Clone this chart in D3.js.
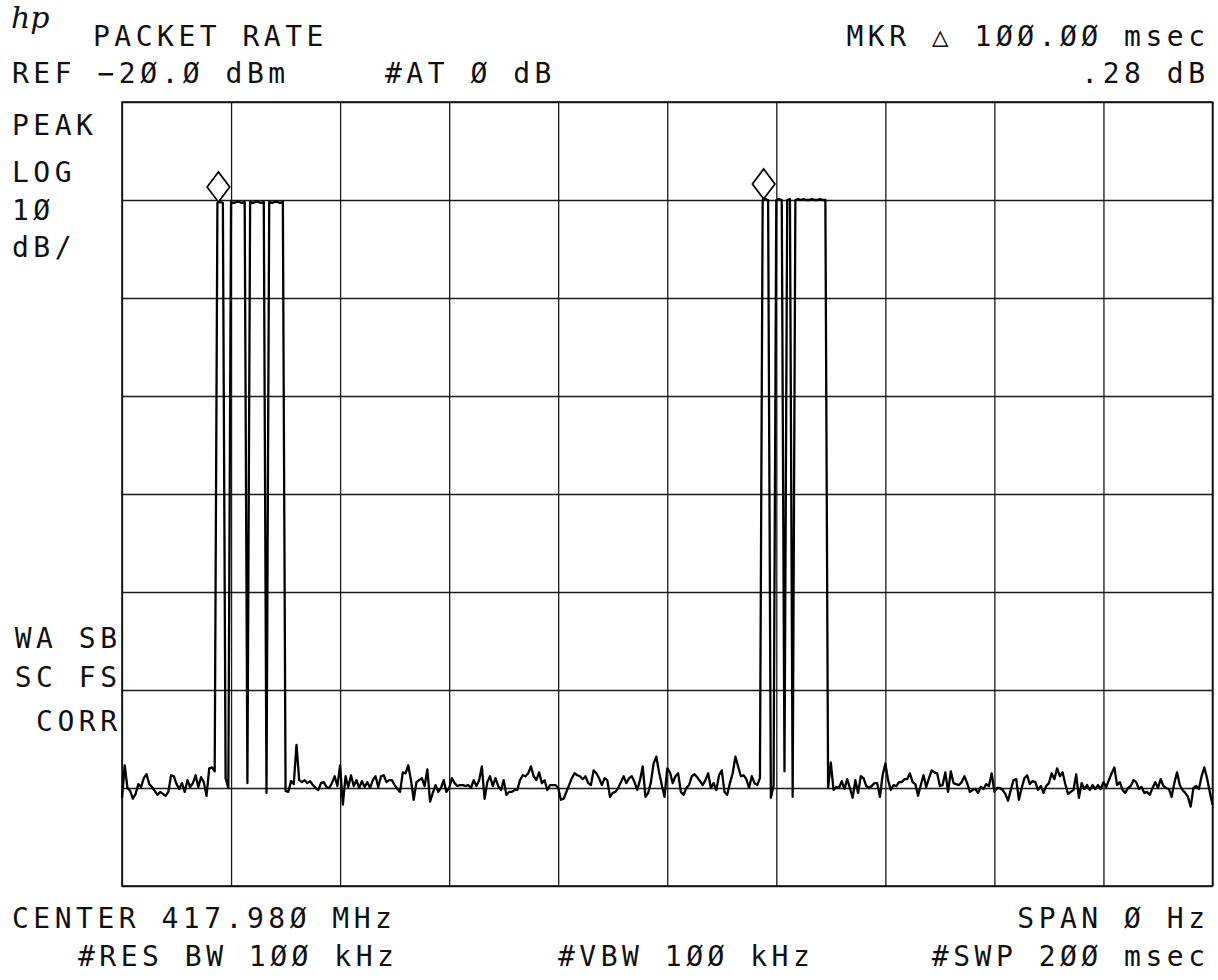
<!DOCTYPE html>
<html>
<head>
<meta charset="utf-8">
<script src="https://cdn.jsdelivr.net/npm/d3@7"></script>
<style>
  html, body { margin: 0; padding: 0; background: #fff; }
  svg { display: block; }
  .lbl { font-family: "DejaVu Sans Mono", monospace; font-size: 28px; fill: #111; letter-spacing: 4.5px; }
  .grid line { stroke: #1a1a1a; stroke-width: 1.3; }
  .grid path { display: none; }
</style>
</head>
<body>
<svg width="1218" height="980"></svg>
<script>
// sweep: 401 points over 200 msec, zero span, values in dBm
var sweepMs = 200;
var refLevel = -20;
var dbPerDiv = 10;
var xDivs = 10;
var yDivs = 8;

var trace = [
  -91.0, -87.7, -90.0, -90.3, -91.1, -90.6, -89.6, -89.9, -89.0, -88.6,
  -89.6, -89.9, -90.3, -90.7, -90.4, -90.6, -90.8, -90.4, -88.7, -88.8,
  -89.6, -90.1, -89.5, -90.4, -89.2, -89.9, -89.5, -88.7, -89.9, -88.9,
  -89.4, -90.8, -88.0, -87.9, -88.3, -30.3, -30.2, -30.3, -89.0, -90.0,
  -30.2, -30.3, -30.2, -30.2, -30.3, -30.2, -89.5, -30.2, -30.3, -30.2,
  -30.2, -30.3, -30.2, -90.5, -30.2, -30.3, -30.2, -30.2, -30.3, -30.2,
  -90.3, -90.4, -89.3, -89.6, -85.6, -89.2, -89.4, -89.2, -89.5, -89.3,
  -89.7, -90.0, -90.2, -89.5, -89.4, -89.9, -90.0, -89.5, -88.8, -89.8,
  -87.7, -91.7, -88.8, -89.9, -88.7, -89.8, -89.2, -90.0, -89.3, -89.9,
  -89.4, -90.0, -89.2, -88.8, -89.9, -88.8, -88.7, -89.4, -89.2, -89.2,
  -89.7, -90.1, -90.4, -88.4, -88.5, -87.7, -89.2, -91.2, -89.4, -89.2,
  -89.0, -89.8, -88.1, -91.4, -90.5, -89.7, -90.4, -90.0, -89.2, -90.4,
  -90.0, -89.0, -89.5, -89.8, -89.7, -89.7, -89.8, -89.7, -90.0, -89.2,
  -89.8, -89.2, -87.8, -91.1, -89.4, -88.8, -89.8, -89.0, -89.8, -90.2,
  -89.2, -90.7, -90.4, -90.4, -90.2, -90.2, -89.2, -88.7, -88.8, -88.5,
  -87.8, -88.8, -89.2, -88.4, -89.5, -89.2, -90.2, -89.7, -89.7, -89.7,
  -90.0, -91.2, -91.1, -90.4, -89.7, -89.0, -88.5, -88.7, -88.8, -89.1,
  -88.8, -89.5, -89.7, -88.2, -88.5, -89.0, -89.7, -89.0, -89.2, -90.9,
  -90.5, -90.4, -90.0, -89.4, -88.8, -89.5, -89.0, -88.8, -89.4, -90.2,
  -89.2, -87.8, -90.9, -90.5, -89.4, -87.5, -86.8, -88.4, -89.7, -90.9,
  -88.0, -88.4, -89.5, -88.8, -88.5, -90.4, -90.7, -90.0, -89.7, -88.8,
  -88.6, -88.9, -89.3, -89.7, -89.2, -88.5, -90.0, -89.5, -90.2, -88.7,
  -88.2, -90.4, -90.7, -89.5, -88.5, -86.8, -87.8, -88.8, -88.7, -89.1,
  -90.0, -88.8, -89.5, -89.7, -89.0, -30.0, -29.9, -30.0, -91.0, -89.8,
  -30.0, -29.9, -30.0, -88.3, -30.0, -29.9, -90.9, -30.0, -29.9, -30.0,
  -29.9, -30.0, -30.0, -29.9, -30.0, -30.0, -29.9, -30.0, -30.0, -90.0,
  -87.4, -90.2, -89.9, -90.0, -89.3, -90.1, -89.1, -90.0, -91.0, -89.2,
  -90.5, -88.8, -89.0, -89.8, -90.0, -89.8, -89.5, -89.5, -90.9, -88.7,
  -87.5, -89.2, -90.2, -89.7, -89.8, -89.4, -89.4, -89.1, -89.1, -88.5,
  -89.4, -89.6, -90.8, -89.7, -88.7, -89.9, -89.0, -88.2, -88.4, -88.5,
  -89.8, -89.7, -88.4, -90.4, -88.3, -89.5, -89.6, -89.7, -89.4, -88.8,
  -89.5, -90.4, -90.2, -90.1, -90.5, -89.9, -90.1, -89.6, -89.8, -88.5,
  -90.4, -90.0, -90.0, -90.2, -90.6, -91.3, -90.2, -89.2, -89.1, -91.2,
  -90.0, -89.0, -88.7, -89.6, -89.3, -89.4, -90.2, -89.8, -90.5, -89.8,
  -89.5, -88.5, -89.1, -88.0, -88.8, -88.4, -89.6, -90.6, -90.4, -90.2,
  -88.6, -91.0, -89.5, -90.1, -89.7, -90.2, -89.7, -90.1, -89.7, -90.1,
  -89.4, -89.9, -89.2, -88.5, -87.9, -89.7, -89.4, -90.2, -90.5, -90.0,
  -89.8, -89.2, -89.4, -90.1, -89.9, -90.5, -90.4, -90.7, -90.0, -89.4,
  -90.0, -89.1, -89.8, -90.0, -90.1, -90.9, -89.5, -88.4, -89.7, -90.2,
  -90.5, -90.9, -91.9, -90.0, -89.8, -90.1, -88.8, -87.9, -89.0, -90.4,
  -91.7
];

// marker and delta marker (sample index)
var markerIdx = [35, 235];

// annotation texts
var titleText = "PACKET RATE";
var mkrText = "MKR \u25B3 1\u00D8\u00D8.\u00D8\u00D8 msec";
var refText = "REF \u22122\u00D8.\u00D8 dBm";
var attText = "#AT \u00D8 dB";
var mkrValText = ".28 dB";
var scaleLabels = ["PEAK", "LOG", "1\u00D8", "dB/"];
var statusLabels = ["WA SB", "SC FS", "CORR"];
var centerText = "CENTER 417.98\u00D8 MHz";
var spanText = "SPAN \u00D8 Hz";
var rbwText = "#RES BW 1\u00D8\u00D8 kHz";
var vbwText = "#VBW 1\u00D8\u00D8 kHz";
var swpText = "#SWP 2\u00D8\u00D8 msec";

var svg = d3.select("svg");
var pLeft = 122, pRight = 1212.5, pTop = 102, pBottom = 886;
var ls = 4.5; // letter spacing, for end anchored text

var x = d3.scaleLinear().domain([0, sweepMs]).range([pLeft, pRight]);
var y = d3.scaleLinear().domain([refLevel - dbPerDiv * yDivs, refLevel]).range([pBottom, pTop]);

// graticule
svg.append("g")
    .attr("class", "grid")
    .attr("transform", "translate(0," + pBottom + ")")
    .call(d3.axisBottom(x).tickValues(d3.range(0, sweepMs + 1, sweepMs / xDivs)).tickSize(-(pBottom - pTop)).tickFormat(""));

svg.append("g")
    .attr("class", "grid")
    .attr("transform", "translate(" + pLeft + ",0)")
    .call(d3.axisLeft(y).tickValues(d3.range(refLevel - dbPerDiv * yDivs, refLevel + 1, dbPerDiv)).tickSize(-(pRight - pLeft)).tickFormat(""));

svg.append("rect")
    .attr("x", pLeft).attr("y", pTop)
    .attr("width", pRight - pLeft).attr("height", pBottom - pTop)
    .attr("fill", "none").attr("stroke", "#111").attr("stroke-width", 1.6);

// trace
var t = function(i) { return i * sweepMs / (trace.length - 1); };
var line = d3.line()
    .x(function(d, i) { return x(t(i)); })
    .y(function(d) { return y(d); });

svg.append("path")
    .datum(trace)
    .attr("d", line)
    .attr("fill", "none")
    .attr("stroke", "#000")
    .attr("stroke-width", 2.3)
    .attr("stroke-linejoin", "round");

// markers: open diamonds sitting on the trace
svg.selectAll(".mkr")
    .data(markerIdx)
    .enter().append("path")
    .attr("class", "mkr")
    .attr("d", function(i) {
        var px = x(t(i)) + 1, py = y(trace[i]) - 1;
        return "M" + px + "," + py + "L" + (px + 11.3) + "," + (py - 15) +
               "L" + px + "," + (py - 30) + "L" + (px - 11.3) + "," + (py - 15) + "Z";
    })
    .attr("fill", "#fff")
    .attr("stroke", "#000")
    .attr("stroke-width", 1.7);

// hp logo
svg.append("text")
    .attr("x", 11).attr("y", 28)
    .attr("font-family", "DejaVu Serif")
    .attr("font-style", "italic")
    .attr("font-size", 30)
    .attr("font-weight", 300)
    .attr("fill", "#111")
    .text("hp");

function label(txt, px, py, anchor) {
    svg.append("text")
        .attr("class", "lbl")
        .attr("x", anchor === "end" ? px + ls : px)
        .attr("y", py)
        .attr("text-anchor", anchor || "start")
        .text(txt);
}

label(titleText, 93, 46);
label(mkrText, 1205, 46, "end");
label(refText, 12, 83);
label(attText, 385, 83);
label(mkrValText, 1205, 83, "end");

var scaleY = [135, 182, 220, 257];
scaleLabels.forEach(function(s, i) { label(s, 12, scaleY[i]); });

var statusY = [648, 687, 731];
statusLabels.forEach(function(s, i) { label(s, 117, statusY[i], "end"); });

label(centerText, 12, 928);
label(spanText, 1205, 928, "end");
label(rbwText, 78, 966);
label(vbwText, 558, 966);
label(swpText, 1205, 966, "end");
</script>
</body>
</html>
